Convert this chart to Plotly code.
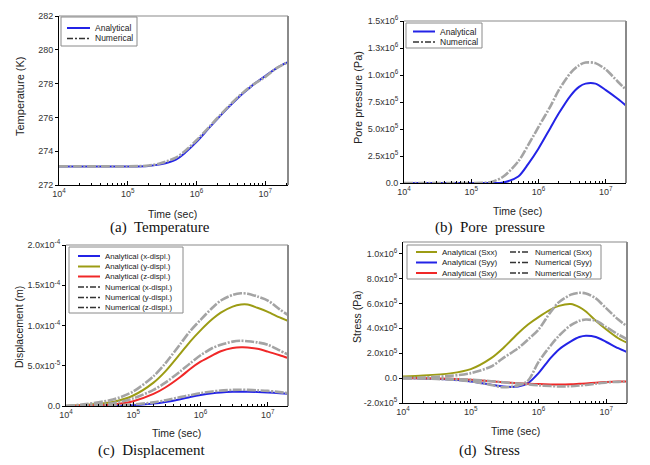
import plotly.graph_objects as go

# ---------------- data ----------------
time_s = [1e4, 2e4, 5e4, 1e5, 2e5, 3e5, 5e5, 7e5, 1e6, 1.5e6, 2e6, 3e6, 4e6, 5e6, 7e6, 1e7, 1.5e7, 2.1e7]

temp_analytical = [273.1, 273.1, 273.1, 273.1, 273.13, 273.22, 273.5, 273.95, 274.55, 275.35, 275.9, 276.65, 277.15, 277.5, 278.0, 278.45, 278.95, 279.25]
temp_numerical = [273.1, 273.1, 273.1, 273.1, 273.15, 273.28, 273.62, 274.05, 274.65, 275.4, 275.95, 276.7, 277.2, 277.55, 278.0, 278.4, 278.95, 279.25]

pore_analytical = [0, 0, 0, 0, 0, 5e3, 6e4, 1.75e5, 3.2e5, 5.1e5, 6.45e5, 8.1e5, 8.9e5, 9.2e5, 9.2e5, 8.6e5, 7.8e5, 7.05e5]
pore_numerical = [0, 0, 0, 0, 1e4, 6e4, 2.0e5, 3.5e5, 5.2e5, 7.1e5, 8.6e5, 1.02e6, 1.09e6, 1.115e6, 1.11e6, 1.05e6, 9.4e5, 8.5e5]

disp_x_analytical = [0, 0, 2e-7, 1e-6, 3e-6, 5e-6, 8.5e-6, 1.12e-5, 1.37e-5, 1.58e-5, 1.68e-5, 1.76e-5, 1.78e-5, 1.78e-5, 1.74e-5, 1.68e-5, 1.58e-5, 1.5e-5]
disp_y_analytical = [0, 1.5e-6, 5e-6, 1.3e-5, 2.9e-5, 4.3e-5, 6.5e-5, 8.0e-5, 9.4e-5, 1.08e-4, 1.16e-4, 1.235e-4, 1.26e-4, 1.26e-4, 1.22e-4, 1.17e-4, 1.1e-4, 1.05e-4]
disp_z_analytical = [0, 5e-7, 2e-6, 6e-6, 1.5e-5, 2.3e-5, 3.6e-5, 4.6e-5, 5.5e-5, 6.3e-5, 6.8e-5, 7.2e-5, 7.3e-5, 7.28e-5, 7.1e-5, 6.75e-5, 6.3e-5, 5.9e-5]
disp_x_numerical = [0, 2e-7, 8e-7, 2e-6, 4.5e-6, 7e-6, 1.1e-5, 1.35e-5, 1.6e-5, 1.8e-5, 1.92e-5, 2.0e-5, 2.02e-5, 2.0e-5, 1.95e-5, 1.88e-5, 1.72e-5, 1.58e-5]
disp_y_numerical = [0, 2.5e-6, 8e-6, 1.8e-5, 3.7e-5, 5.3e-5, 7.7e-5, 9.3e-5, 1.07e-4, 1.22e-4, 1.31e-4, 1.38e-4, 1.40e-4, 1.395e-4, 1.36e-4, 1.31e-4, 1.2e-4, 1.12e-4]
disp_z_numerical = [0, 1e-6, 3.5e-6, 9.5e-6, 2.0e-5, 2.9e-5, 4.3e-5, 5.3e-5, 6.3e-5, 7.2e-5, 7.6e-5, 8.0e-5, 8.1e-5, 8.05e-5, 7.9e-5, 7.6e-5, 6.9e-5, 6.3e-5]

sxx_analytical = [1.3e4, 2e4, 3.8e4, 7.2e4, 1.6e5, 2.4e5, 3.6e5, 4.3e5, 4.9e5, 5.5e5, 5.8e5, 5.95e5, 5.7e5, 5.35e5, 4.6e5, 3.9e5, 3.2e5, 2.8e5]
syy_analytical = [0, -3e3, -1.2e4, -2.7e4, -5.3e4, -6.8e4, -6.7e4, -4e4, 4e4, 1.6e5, 2.3e5, 2.95e5, 3.3e5, 3.4e5, 3.3e5, 2.9e5, 2.4e5, 2.05e5]
sxy_analytical = [0, -2e3, -6e3, -1.3e4, -2.5e4, -3.3e4, -4.2e4, -4.6e4, -4.8e4, -5.1e4, -5.2e4, -5.0e4, -4.6e4, -4.3e4, -3.7e4, -3.2e4, -2.8e4, -2.7e4]
sxx_numerical = [0, 5e3, 1.8e4, 4e4, 9.3e4, 1.6e5, 2.4e5, 3.1e5, 3.9e5, 5.3e5, 6.1e5, 6.7e5, 6.85e5, 6.8e5, 6.4e5, 5.6e5, 4.7e5, 4.1e5]
syy_numerical = [0, -3e3, -1.2e4, -2.5e4, -5.5e4, -7.3e4, -6e4, -2e4, 1.3e5, 2.6e5, 3.4e5, 4.25e5, 4.6e5, 4.7e5, 4.6e5, 4.1e5, 3.5e5, 3.07e5]
sxy_numerical = [0, -2e3, -6e3, -1.3e4, -2.5e4, -3.4e4, -4.4e4, -5.0e4, -5.8e4, -6.4e4, -6.7e4, -6.5e4, -6.0e4, -5.5e4, -4.5e4, -3.5e4, -3.0e4, -2.9e4]

x_tick_vals = [1e4, 1e5, 1e6, 1e7]
x_tick_text = ["10<sup>4</sup>", "10<sup>5</sup>", "10<sup>6</sup>", "10<sup>7</sup>"]

temp_tick_vals = [272, 274, 276, 278, 280, 282]
pore_tick_vals = [0, 2.5e5, 5e5, 7.5e5, 1e6, 1.25e6, 1.5e6]
pore_tick_text = ["0.0", "2.5x10<sup>5</sup>", "5.0x10<sup>5</sup>", "7.5x10<sup>5</sup>", "1.0x10<sup>6</sup>", "1.3x10<sup>6</sup>", "1.5x10<sup>6</sup>"]
disp_tick_vals = [0, 5e-5, 1e-4, 1.5e-4, 2e-4]
disp_tick_text = ["0.0", "5.0x10<sup>-5</sup>", "1.0x10<sup>-4</sup>", "1.5x10<sup>-4</sup>", "2.0x10<sup>-4</sup>"]
stress_tick_vals = [-2e5, 0, 2e5, 4e5, 6e5, 8e5, 1e6]
stress_tick_text = ["-2.0x10<sup>5</sup>", "0.0", "2.0x10<sup>5</sup>", "4.0x10<sup>5</sup>", "6.0x10<sup>5</sup>", "8.0x10<sup>5</sup>", "1.0x10<sup>6</sup>"]

# ---------------- style ----------------
BLUE = "#2323e6"
OLIVE = "#9c9c14"
RED = "#f02828"
NUM = "#a4a4a4"
NUM_DASH = "9px,1.5px,2px,1.5px"
FONT = "Liberation Sans"

# the page body keeps an 8px margin, so the figure is offset by 8px
OFF = 8
W, H = 650 - OFF, 465 - OFF
def px(x):
    return (x - OFF) / W
def py(y):
    return 1 - (y - OFF) / H

fig = go.Figure()

def analytical(x, y, name, color, xa, ya):
    fig.add_trace(go.Scatter(x=x, y=y, name=name, mode="lines", xaxis=xa, yaxis=ya, showlegend=False,
                             line=dict(color=color, width=2, shape="spline", smoothing=0.8)))

def numerical(x, y, name, color, xa, ya):
    fig.add_trace(go.Scatter(x=x, y=y, name=name, mode="lines", xaxis=xa, yaxis=ya, showlegend=False,
                             line=dict(color=color, width=2.6, dash=NUM_DASH, shape="spline", smoothing=0.8)))

# (a)
analytical(time_s, temp_analytical, "Analytical", BLUE, "x", "y")
numerical(time_s, temp_numerical, "Numerical", NUM, "x", "y")
# (b)
analytical(time_s, pore_analytical, "Analytical", BLUE, "x2", "y2")
numerical(time_s, pore_numerical, "Numerical", NUM, "x2", "y2")
# (c)
analytical(time_s, disp_x_analytical, "Analytical (x-displ.)", BLUE, "x3", "y3")
analytical(time_s, disp_y_analytical, "Analytical (y-displ.)", OLIVE, "x3", "y3")
analytical(time_s, disp_z_analytical, "Analytical (z-displ.)", RED, "x3", "y3")
numerical(time_s, disp_x_numerical, "Numerical (x-displ.)", NUM, "x3", "y3")
numerical(time_s, disp_y_numerical, "Numerical (y-displ.)", NUM, "x3", "y3")
numerical(time_s, disp_z_numerical, "Numerical (z-displ.)", NUM, "x3", "y3")
# (d)
analytical(time_s, sxx_analytical, "Analytical (Sxx)", OLIVE, "x4", "y4")
analytical(time_s, syy_analytical, "Analytical (Syy)", BLUE, "x4", "y4")
analytical(time_s, sxy_analytical, "Analytical (Sxy)", RED, "x4", "y4")
numerical(time_s, sxx_numerical, "Numerical (Sxx)", NUM, "x4", "y4")
numerical(time_s, syy_numerical, "Numerical (Syy)", NUM, "x4", "y4")
numerical(time_s, sxy_numerical, "Numerical (Sxy)", NUM, "x4", "y4")

tickfont = dict(family=FONT, size=9, color="#333")

def xaxis(l, r, xr, anchor):
    return dict(domain=[px(l), px(r)], anchor=anchor, type="log", range=xr, automargin=False,
                tickvals=x_tick_vals, ticktext=x_tick_text, tickfont=tickfont,
                showline=True, linecolor="black", linewidth=1, ticks="inside", ticklen=4,
                tickcolor="black", showgrid=False, zeroline=False,
                minor=dict(ticks="inside", ticklen=2, tickcolor="black", dtick="D1", showgrid=False))

def yaxis(t, b, yr, vals, text, anchor):
    d = dict(domain=[py(b), py(t)], anchor=anchor, range=yr, tickvals=vals, tickfont=tickfont,
             automargin=False, showline=True, linecolor="black", linewidth=1, ticks="outside", ticklen=3,
             tickcolor="black", showgrid=False, zeroline=False)
    if text is not None:
        d["ticktext"] = text
    return d

annotations = []
shapes = []

def ann(text, x, y, size, angle=0, family=FONT, color="#222", xanchor="center"):
    annotations.append(dict(text=text, x=px(x), y=py(y), xref="paper", yref="paper",
                            xanchor=xanchor, yanchor="middle",
                            showarrow=False, textangle=angle,
                            font=dict(family=family, size=size, color=color)))

# ---- hand-drawn legends (compact, like the original) ----
def legend_box(x0, y0, x1, y1):
    shapes.append(dict(type="rect", xref="paper", yref="paper", x0=px(x0), x1=px(x1), y0=py(y1), y1=py(y0),
                       line=dict(color="#8a8a8a", width=1), fillcolor="white", layer="above"))

def legend_entry(label, color, x_line0, x_line1, x_text, y, size, numeric=False):
    if numeric:
        line = dict(color="#333", width=1.6, dash="6px,2px,2px,2px")
    else:
        line = dict(color=color, width=2)
    shapes.append(dict(type="line", xref="paper", yref="paper", x0=px(x_line0), x1=px(x_line1),
                       y0=py(y), y1=py(y), line=line, layer="above"))
    ann(label, x_text, y, size, xanchor="left")

legend_box(61, 17, 137, 46)
legend_entry("Analytical", BLUE, 67, 90, 93, 28, 8.5)
legend_entry("Numerical", BLUE, 67, 90, 93, 38.5, 8.5, numeric=True)

legend_box(406, 23, 482, 48)
legend_entry("Analytical", BLUE, 413, 435, 438, 31.5, 8.5)
legend_entry("Numerical", BLUE, 413, 435, 438, 42, 8.5, numeric=True)

legend_box(69, 247, 183, 313)
c_labels = ["Analytical (x-displ.)", "Analytical (y-displ.)", "Analytical (z-displ.)",
            "Numerical (x-displ.)", "Numerical (y-displ.)", "Numerical (z-displ.)"]
c_colors = [BLUE, OLIVE, RED, None, None, None]
c_y = [256, 266.5, 276.5, 287, 297.5, 307.5]
for i in range(6):
    legend_entry(c_labels[i], c_colors[i], 78, 100, 103, c_y[i], 7.8, numeric=(i >= 3))

legend_box(407, 245, 601, 279)
d_labels_a = ["Analytical (Sxx)", "Analytical (Syy)", "Analytical (Sxy)"]
d_colors = [OLIVE, BLUE, RED]
d_labels_n = ["Numerical (Sxx)", "Numerical (Syy)", "Numerical (Sxy)"]
d_y = [252, 262.5, 273]
for i in range(3):
    legend_entry(d_labels_a[i], d_colors[i], 416, 437, 440, d_y[i], 8)
    legend_entry(d_labels_n[i], None, 510, 530, 533, d_y[i], 8, numeric=True)

# ---- axis titles & captions ----
ann("Time (sec)", 173, 214, 10.5)
ann("Time (sec)", 517, 211, 10.5)
ann("Time (sec)", 177, 433, 10.5)
ann("Time (sec)", 515, 431, 10.5)
ann("Temperature (K)", 20, 97, 11, -90)
ann("Pore pressure (Pa)", 358, 97, 11, -90)
ann("Displacement (m)", 19, 327, 10.5, -90)
ann("Stress (Pa)", 357, 317, 10.5, -90)
SERIF = "Liberation Serif"
ann("(a)  Temperature", 160, 227, 15, family=SERIF, color="#111")
ann("(b)  Pore  pressure", 490, 227, 15, family=SERIF, color="#111")
ann("(c)  Displacement", 151, 450, 15, family=SERIF, color="#111")
ann("(d)  Stress", 489, 450, 15, family=SERIF, color="#111")

for xa, ya in [("x", "y"), ("x2", "y2"), ("x3", "y3"), ("x4", "y4")]:
    shapes.append(dict(type="line", xref=xa + " domain", yref=ya + " domain", x0=0, x1=1, y0=1, y1=1,
                       line=dict(color="#8a8a8a", width=1.2)))
    shapes.append(dict(type="line", xref=xa + " domain", yref=ya + " domain", x0=1, x1=1, y0=0, y1=1,
                       line=dict(color="#8a8a8a", width=2)))

fig.update_layout(
    width=W, height=H, margin=dict(l=0, r=0, t=0, b=0, autoexpand=False),
    paper_bgcolor="white", plot_bgcolor="white",
    xaxis=xaxis(59, 288, [4, 7.33], "y"),
    yaxis=yaxis(16, 185, [272, 282], temp_tick_vals, None, "x"),
    xaxis2=xaxis(404, 626, [4, 7.30], "y2"),
    yaxis2=yaxis(21, 183, [0, 1.5e6], pore_tick_vals, pore_tick_text, "x2"),
    xaxis3=xaxis(66, 288, [4, 7.30], "y3"),
    yaxis3=yaxis(245, 406, [0, 2e-4], disp_tick_vals, disp_tick_text, "x3"),
    xaxis4=xaxis(403, 627, [4, 7.305], "y4"),
    yaxis4=yaxis(242, 403, [-2e5, 1.093e6], stress_tick_vals, stress_tick_text, "x4"),
    annotations=annotations,
    shapes=shapes,
    showlegend=False,
)

fig.write_html("out.html")
